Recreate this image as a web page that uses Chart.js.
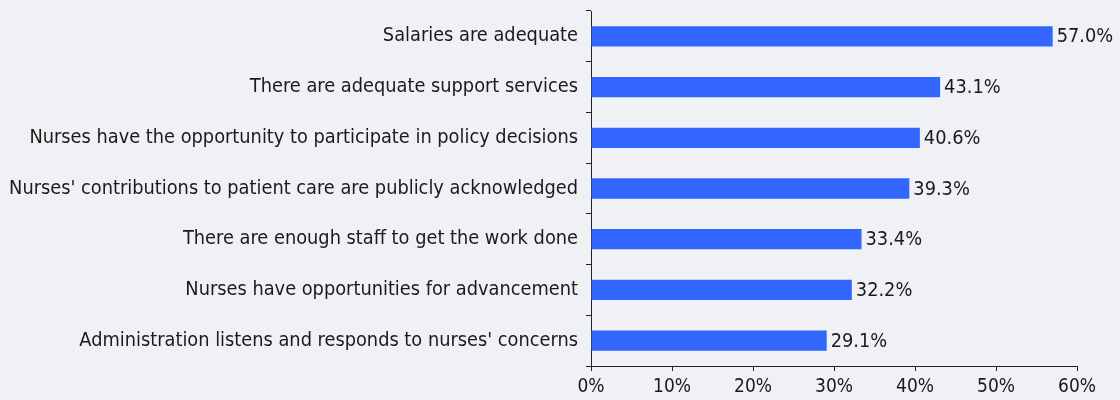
<!DOCTYPE html>
<html><head><meta charset="utf-8">
<script src="https://cdn.jsdelivr.net/npm/chart.js@4"></script>
<style>
html,body{margin:0;padding:0;background:#f0f1f4;}
#wrap{width:1120px;height:400px;}
</style></head>
<body><div id="wrap"><canvas id="c" width="1120" height="400"></canvas></div>
<script>
const categories = [
  "Salaries are adequate",
  "There are adequate support services",
  "Nurses have the opportunity to participate in policy decisions",
  "Nurses' contributions to patient care are publicly acknowledged",
  "There are enough staff to get the work done",
  "Nurses have opportunities for advancement",
  "Administration listens and responds to nurses' concerns"
];
const values = [57.0, 43.1, 40.6, 39.3, 33.4, 32.2, 29.1];
const xMin = 0, xMax = 60, xStep = 10;

const FONT = "DejaVu Sans Condensed";
const FS = 19.8;
const TEXT = "#1a1a1a";

const valueLabels = {
  id: 'valueLabels',
  afterDatasetsDraw(chart) {
    const ctx = chart.ctx;
    const meta = chart.getDatasetMeta(0);
    ctx.save();
    ctx.font = FS + "px '" + FONT + "'";
    ctx.fillStyle = TEXT;
    ctx.textAlign = 'left';
    ctx.textBaseline = 'middle';
    meta.data.forEach((bar, i) => {
      ctx.fillText(values[i].toFixed(1) + '%', bar.x + 4, bar.y + 1);
    });
    ctx.restore();
  }
};

new Chart(document.getElementById('c'), {
  type: 'bar',
  data: {
    labels: categories,
    datasets: [{
      data: values,
      backgroundColor: '#3366ff',
      borderWidth: 0,
      categoryPercentage: 1,
      barPercentage: 0.4
    }]
  },
  options: {
    indexAxis: 'y',
    responsive: false,
    animation: false,
    devicePixelRatio: 1,
    layout: { padding: { top: 11, right: 43, bottom: 0, left: 0 } },
    plugins: { legend: { display: false }, tooltip: { enabled: false } },
    scales: {
      x: {
        min: xMin, max: xMax,
        ticks: { stepSize: xStep, color: TEXT, font: { family: FONT, size: 19 }, padding: 5,
                 callback: v => v + '%' },
        grid: { drawOnChartArea: false, tickLength: 5, color: '#222' },
        border: { color: '#222', width: 1 },
        afterFit: s => { s.height = 34; s.paddingLeft = 0; s.paddingRight = 0; }
      },
      y: {
        ticks: { color: TEXT, font: { family: FONT, size: FS }, padding: 8 },
        grid: { drawOnChartArea: false, tickLength: 5, color: '#222', offset: true },
        border: { color: '#222', width: 1 },
        afterFit: s => { s.width = 591; s.paddingTop = 0; s.paddingBottom = 0; }
      }
    }
  },
  plugins: [valueLabels]
});
</script></body></html>
